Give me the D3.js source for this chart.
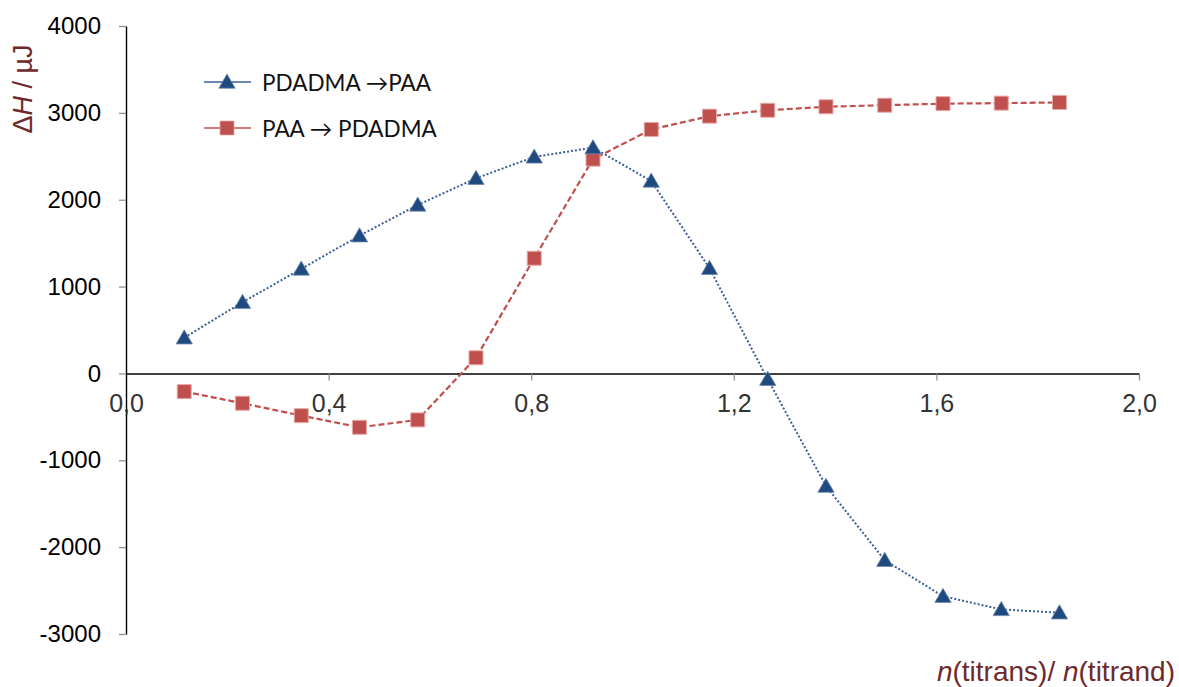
<!DOCTYPE html>
<html>
<head>
<meta charset="utf-8">
<script src="https://cdn.jsdelivr.net/npm/d3@7"></script>
<style>
  html, body { margin: 0; padding: 0; background: #fff; }
  svg { display: block; }
</style>
</head>
<body>
<svg id="chart" width="1179" height="687"></svg>
<script>
// Titration ratio n(titrans)/n(titrand) for each injection
const ratio = [0.115, 0.230, 0.346, 0.461, 0.576, 0.691, 0.806, 0.922,
               1.037, 1.152, 1.267, 1.382, 1.498, 1.613, 1.728, 1.843];

// Heat per injection, µJ
const pdadmaToPaa = [411, 820, 1203, 1586, 1940, 2247, 2493, 2600,
                     2216, 1211, -67, -1297, -2151, -2565, -2717, -2755];
const paaToPdadma = [-209, -343, -486, -620, -535, 180, 1326, 2467,
                     2809, 2962, 3030, 3070, 3088, 3106, 3112, 3120];

const seriesNames = ["PDADMA \u2192PAA", "PAA \u2192 PDADMA"];

const xTicks = [0.0, 0.4, 0.8, 1.2, 1.6, 2.0];
const xTickLabels = ["0,0", "0,4", "0,8", "1,2", "1,6", "2,0"];
const yTicks = [-3000, -2000, -1000, 0, 1000, 2000, 3000, 4000];

const svg = d3.select("#chart");

const x = d3.scaleLinear().domain([0, 2.0]).range([126, 1139]);
const y = d3.scaleLinear().domain([-3000, 4000]).range([634, 26]);

const blue = "#1f4a7f";
const blueLine = "#3b5f98";
const red = "#c0504d";

// Y axis
const yAxis = svg.append("g")
  .attr("transform", `translate(${x(0)},0)`)
  .call(d3.axisLeft(y).tickValues(yTicks).tickSize(7).tickSizeOuter(0).tickPadding(18)
    .tickFormat(d => String(d)));
yAxis.select(".domain").attr("stroke", "#000").attr("stroke-width", 1.4);
yAxis.selectAll(".tick line").attr("stroke", "#8a8a8a").attr("stroke-width", 1.2);
yAxis.selectAll(".tick text")
  .attr("fill", "#000")
  .attr("font-family", "'Liberation Sans', Arial, sans-serif")
  .attr("font-size", 24);

// X axis drawn through y = 0
const xAxis = svg.append("g")
  .attr("transform", `translate(0,${y(0)})`)
  .call(d3.axisBottom(x).tickValues(xTicks).tickSize(7).tickSizeOuter(0)
    .tickFormat((d, i) => xTickLabels[i]));
xAxis.select(".domain").attr("stroke", "#000").attr("stroke-width", 1.4);
xAxis.selectAll(".tick line").attr("stroke", "#8a8a8a").attr("stroke-width", 1.2);
xAxis.selectAll(".tick").filter(d => d === 0).select("line").remove();
xAxis.selectAll(".tick text")
  .attr("y", 39).attr("dy", 0)
  .attr("fill", "#333")
  .attr("font-family", "'Liberation Sans', Arial, sans-serif")
  .attr("font-size", 25);

// Axis titles
const yTitle = svg.append("text")
  .attr("transform", "translate(32,89) rotate(-90)")
  .attr("text-anchor", "middle")
  .attr("fill", "#6e2a2a")
  .attr("font-family", "'Liberation Sans', Arial, sans-serif")
  .attr("font-size", 27);
yTitle.append("tspan").text("\u0394");
yTitle.append("tspan").attr("font-style", "italic").text("H");
yTitle.append("tspan").text(" / \u00b5J");

const xTitle = svg.append("text")
  .attr("x", 1175).attr("y", 681)
  .attr("text-anchor", "end")
  .attr("fill", "#6e2a2a")
  .attr("font-family", "'Liberation Sans', Arial, sans-serif")
  .attr("font-size", 28);
xTitle.append("tspan").attr("font-style", "italic").text("n");
xTitle.append("tspan").text("(titrans)/ ");
xTitle.append("tspan").attr("font-style", "italic").text("n");
xTitle.append("tspan").text("(titrand)");

// Series
const line = d3.line().x((d, i) => x(ratio[i])).y(d => y(d));

svg.append("path")
  .datum(pdadmaToPaa)
  .attr("d", line)
  .attr("fill", "none")
  .attr("stroke", blueLine)
  .attr("stroke-width", 2)
  .attr("stroke-dasharray", "2,2");

svg.append("path")
  .datum(paaToPdadma)
  .attr("d", line)
  .attr("fill", "none")
  .attr("stroke", red)
  .attr("stroke-width", 2.2)
  .attr("stroke-dasharray", "6,3");

const tri = d3.symbol().type(d3.symbolTriangle).size(115);
const sq = d3.symbol().type(d3.symbolSquare).size(196);

svg.append("g").selectAll("path")
  .data(paaToPdadma)
  .join("path")
  .attr("d", sq)
  .attr("transform", (d, i) => `translate(${x(ratio[i])},${y(d)})`)
  .attr("fill", red)
  .attr("stroke", "#e6a9a7")
  .attr("stroke-width", 1);

svg.append("g").selectAll("path")
  .data(pdadmaToPaa)
  .join("path")
  .attr("d", tri)
  .attr("transform", (d, i) => `translate(${x(ratio[i])},${y(d) + 1.5})`)
  .attr("fill", blue)
  .attr("stroke", "#6d87ad")
  .attr("stroke-width", 0.8);

// Legend
const legend = svg.append("g");
const rows = [
  { name: seriesNames[0], color: blueLine, sym: tri, fill: blue, edge: "#6d87ad", y: 82, dy: 1.5 },
  { name: seriesNames[1], color: red, sym: sq, fill: red, edge: "#e6a9a7", y: 128, dy: 0 }
];
rows.forEach(r => {
  legend.append("line")
    .attr("x1", 204).attr("x2", 251).attr("y1", r.y).attr("y2", r.y)
    .attr("stroke", r.color).attr("stroke-width", 1.4);
  legend.append("path")
    .attr("d", r.sym)
    .attr("transform", `translate(227,${r.y + r.dy})`)
    .attr("fill", r.fill).attr("stroke", r.edge).attr("stroke-width", 0.8);
  legend.append("text")
    .attr("x", 262).attr("y", r.y + 8.5)
    .attr("fill", "#111")
    .attr("font-family", "Lato, 'Open Sans', sans-serif")
    .attr("font-size", 22.5)
    .text(r.name);
});
</script>
</body>
</html>
